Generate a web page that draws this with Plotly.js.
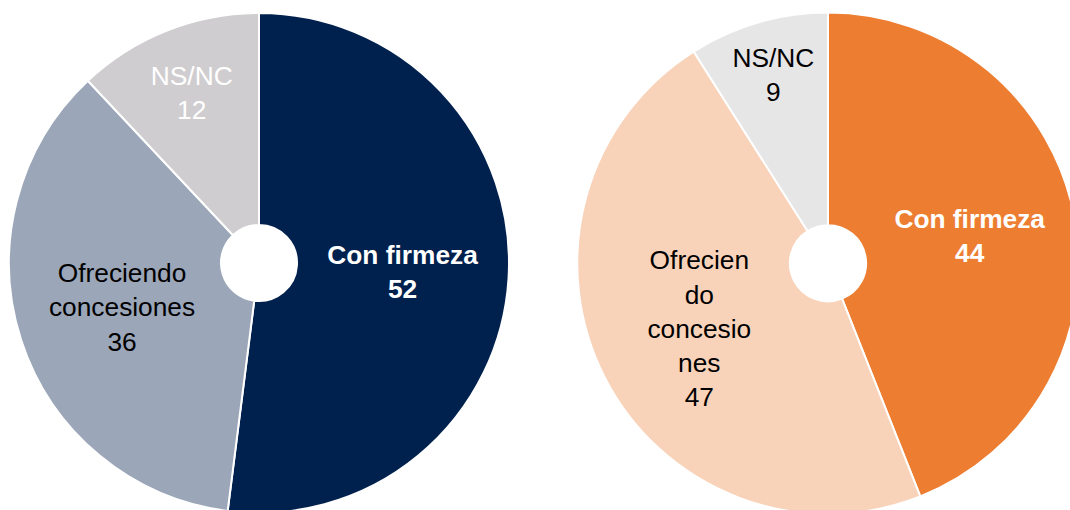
<!DOCTYPE html>
<html>
<head>
<meta charset="utf-8">
<script src="https://cdn.plot.ly/plotly-3.0.1.min.js"></script>
<style>
  html, body { margin: 0; padding: 0; overflow: hidden; background: #ffffff; }
  #chart { width: 1090px; height: 530px; }
</style>
</head>
<body>
<div id="chart"></div>
<script>
// Categories and values
const categories = ['Con firmeza', 'Ofreciendo concesiones', 'NS/NC'];
const leftValues = [52, 36, 12];
const rightValues = [44, 47, 9];

// Slice label text as shown in each chart
const leftLabels = ['Con firmeza', 'Ofreciendo<br>concesiones', 'NS/NC'];
const rightLabels = ['Con firmeza', 'Ofrecien<br>do<br>concesio<br>nes', 'NS/NC'];

const leftColors = ['#00214e', '#9ba6b8', '#cfcdcf'];
const rightColors = ['#ed7d31', '#f8d3ba', '#e6e6e6'];
const leftTextColors = ['#ffffff', '#000000', '#ffffff'];
const rightTextColors = ['#ffffff', '#000000', '#000000'];

const W = 1090, H = 530;

function makeText(labels, values) {
  return labels.map((l, i) => i === 0 ? '<b>' + l + '<br>' + values[i] + '</b>' : l + '<br>' + values[i]);
}

function pieTrace(values, labels, colors, textColors, dom) {
  return {
    type: 'pie',
    labels: categories,
    values: values,
    text: makeText(labels, values),
    textinfo: 'text',
    textposition: 'inside',
    insidetextorientation: 'horizontal',
    hoverinfo: 'skip',
    sort: false,
    direction: 'clockwise',
    rotation: 0,
    hole: 0.152,
    marker: { colors: colors, line: { color: '#ffffff', width: 2 } },
    textfont: { family: 'Liberation Sans, Arial, sans-serif', size: 26.3, color: textColors },
    showlegend: false,
    domain: dom
  };
}

const data = [
  pieTrace(leftValues, leftLabels, leftColors, leftTextColors,
    { x: [9 / W, 509 / W], y: [1 - 513.5 / H, 1 - 12.5 / H] }),
  pieTrace(rightValues, rightLabels, rightColors, rightTextColors,
    { x: [577 / W, 1079 / W], y: [1 - 514 / H, 1 - 12.5 / H] })
];

const layout = {
  width: W,
  height: H,
  margin: { l: 0, r: 0, t: 0, b: 0 },
  paper_bgcolor: '#ffffff',
  plot_bgcolor: '#ffffff',
  showlegend: false,
  font: { family: 'Liberation Sans, Arial, sans-serif' }
};

Plotly.newPlot('chart', data, layout, { displayModeBar: false, staticPlot: true });
</script>
</body>
</html>
